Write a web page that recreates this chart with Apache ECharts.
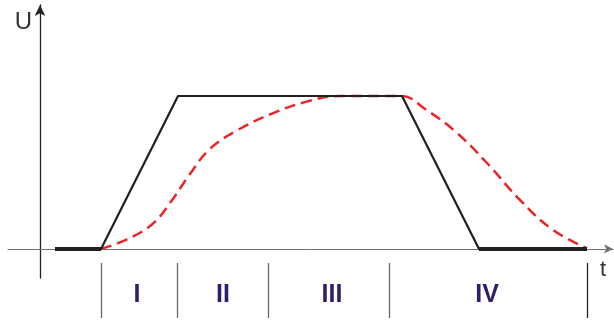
<!DOCTYPE html>
<html>
<head>
<meta charset="utf-8">
<script src="https://cdn.jsdelivr.net/npm/echarts@6/dist/echarts.min.js"></script>
<style>
  html, body { margin: 0; padding: 0; background: #fff; }
  #main { width: 614px; height: 322px; }
</style>
</head>
<body>
<div id="main"></div>
<script>
  // t in arbitrary units, U normalised to 1 at the plateau
  var ideal = [[1.5, 0], [6.1, 0], [13.8, 1], [36.2, 1], [43.9, 0], [54.7, 0]];
  var baseLeft = [[1.5, 0], [6.1, 0]];
  var baseRight = [[43.9, 0], [54.7, 0]];
  var real = [
    [6.1, 0], [8.6, 0.06], [11.2, 0.16], [13.0, 0.3],
    [15.0, 0.49], [17.0, 0.655], [19.7, 0.775], [23.2, 0.885],
    [26.5, 0.96], [30.0, 1], [36.2, 1], [38.5, 0.915],
    [41.5, 0.77], [44.7, 0.562], [48.0, 0.32],
    [51.3, 0.124], [54.7, 0.005]
  ];
  var phaseBounds = [6.1, 13.7, 22.8, 34.9, 54.7];
  var phaseNames = ['I', 'II', 'III', 'IV'];
  var phaseCenters = [9.7, 18.3, 29.2, 44.7];

  var chart = echarts.init(document.getElementById('main'));
  var option = {
    animation: false,
    grid: [
      { left: 8, right: 1, top: 5, bottom: 44 },
      { left: 8, right: 1, top: 263, bottom: 4 }
    ],
    xAxis: [
      {
        type: 'value', min: -3.2, max: 57.3, gridIndex: 0,
        name: 't', nameLocation: 'end', nameGap: -10,
        nameTextStyle: { fontSize: 22, color: '#333', fontFamily: 'Liberation Sans',
          align: 'center', verticalAlign: 'top', padding: [10, 0, 0, 0] },
        axisLine: { onZero: true, symbol: ['none', 'arrow'], symbolSize: [7, 9],
          lineStyle: { color: '#707070', width: 1 } },
        axisTick: { show: false }, axisLabel: { show: false }, splitLine: { show: false }
      },
      {
        type: 'value', min: -3.2, max: 57.3, gridIndex: 1, show: false
      }
    ],
    yAxis: [
      {
        type: 'value', min: -0.19, max: 1.595, gridIndex: 0,
        name: 'U', nameLocation: 'end', nameGap: -29,
        nameTextStyle: { fontSize: 24, color: '#333', fontFamily: 'Liberation Sans',
          align: 'right', padding: [0, 8, 0, 0] },
        axisLine: { onZero: true, symbol: ['none', 'arrow'], symbolSize: [8, 11],
          lineStyle: { color: '#222', width: 1.3 } },
        axisTick: { show: false }, axisLabel: { show: false }, splitLine: { show: false }
      },
      {
        type: 'value', min: 0, max: 1, gridIndex: 1, show: false
      }
    ],
    series: [
      {
        name: 'real', type: 'line', data: real, smooth: 0.4,
        symbol: 'none', z: 2,
        lineStyle: { color: '#e8262a', width: 2.5, type: [11, 6] }
      },
      {
        name: 'ideal', type: 'line', data: ideal, symbol: 'none', z: 3,
        lineStyle: { color: '#231f20', width: 2.2 }
      },
      {
        name: 'baseLeft', type: 'line', data: baseLeft, symbol: 'none', z: 3,
        lineStyle: { color: '#231f20', width: 4 }
      },
      {
        name: 'baseRight', type: 'line', data: baseRight, symbol: 'none', z: 3,
        lineStyle: { color: '#231f20', width: 4 }
      },
      {
        name: 'phases', type: 'scatter', xAxisIndex: 1, yAxisIndex: 1,
        symbolSize: 0, itemStyle: { opacity: 1 },
        data: phaseCenters.map(function (x, i) { return { value: [x, 0.42], name: phaseNames[i] }; }),
        label: { show: true, position: 'inside', formatter: '{b}', opacity: 1,
          fontSize: 25, fontWeight: 'bold', color: '#2b1f70', fontFamily: 'Liberation Sans' },
        markLine: {
          silent: true, symbol: 'none', label: { show: false },
          lineStyle: { color: '#6a6a6a', width: 1.3, type: 'solid' },
          data: phaseBounds.map(function (x, i) {
            return { xAxis: x, lineStyle: i === phaseBounds.length - 1 ? { color: '#222' } : {} };
          })
        }
      }
    ]
  };
  chart.setOption(option);
</script>
</body>
</html>
